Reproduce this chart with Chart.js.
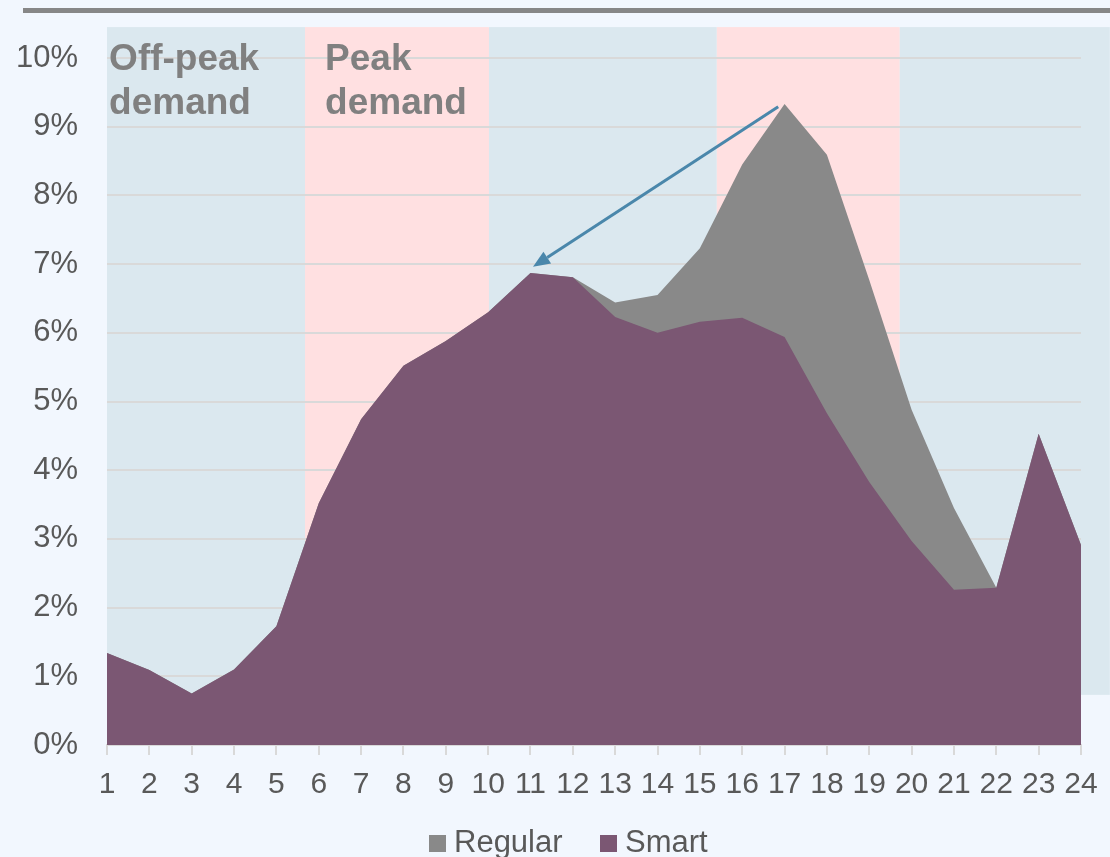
<!DOCTYPE html>
<html>
<head>
<meta charset="utf-8">
<script src="https://cdn.jsdelivr.net/npm/chart.js@4"></script>
<style>
    html, body { margin: 0; padding: 0; background: #f2f7fe; overflow: hidden; }
    #wrap { position: relative; width: 1110px; height: 857px; overflow: hidden; }
    #topline { position: absolute; left: 23px; top: 8px; width: 1087px; height: 5px; background: #878787; }
    #chart-box { position: absolute; left: 0; top: 0; width: 1110px; height: 857px; }
</style>
</head>
<body>
<div id="wrap">
    <div id="topline"></div>
    <div id="chart-box"><canvas id="demand-chart"></canvas></div>
</div>
<script>
// Hourly share of daily charging demand
const hours = ['1', '2', '3', '4', '5', '6', '7', '8', '9', '10', '11', '12',
    '13', '14', '15', '16', '17', '18', '19', '20', '21', '22', '23', '24'];
const regular = [1.34, 1.09, 0.75, 1.10, 1.73, 3.52, 4.74, 5.52, 5.88, 6.30, 6.87, 6.81,
    6.44, 6.55, 7.23, 8.45, 9.33, 8.59, 6.77, 4.88, 3.45, 2.29, 4.53, 2.91];
const smart = [1.34, 1.09, 0.75, 1.10, 1.73, 3.52, 4.74, 5.52, 5.88, 6.30, 6.87, 6.81,
    6.23, 6.00, 6.16, 6.22, 5.94, 4.83, 3.83, 2.97, 2.26, 2.29, 4.53, 2.91];
const yTicks = [0, 1, 2, 3, 4, 5, 6, 7, 8, 9, 10];

// demand periods (hour positions of band edges)
const bandStart = [1, 5.675, 10.02, 15.4, 19.72];
const bandEnd = [5.675, 10.02, 15.4, 19.72, 24.68];
const bandKind = ['off', 'peak', 'off', 'peak', 'off'];
const bandTop = 10.45;
const bandBottom = [0, 0, 0, 0, 0.73];

const periodLabels = [['Off-peak', 'demand'], ['Peak', 'demand']];
const periodLabelAt = [1.05, 6.15];

// arrow from the regular peak to the smart peak
const arrowFrom = [16.85, 9.29];
const arrowTo = [11.06, 6.96];

const bandColors = { off: '#dbe8ef', peak: '#ffe0e1' };
const FONT = '"Liberation Sans", Arial, sans-serif';

const backgroundBands = {
    id: 'backgroundBands',
    beforeDraw(chart) {
        const { ctx, scales: { x, y } } = chart;
        ctx.save();
        for (let i = 0; i < bandStart.length; i++) {
            const x0 = x.getPixelForValue(bandStart[i] - 1);
            const x1 = x.getPixelForValue(bandEnd[i] - 1);
            const y0 = y.getPixelForValue(bandTop);
            const y1 = y.getPixelForValue(bandBottom[i]);
            ctx.fillStyle = bandColors[bandKind[i]];
            ctx.fillRect(x0, y0, x1 - x0, y1 - y0);
        }
        ctx.restore();
    },
    afterDatasetsDraw(chart) {
        const { ctx, scales: { x, y } } = chart;
        ctx.save();
        // period labels
        ctx.fillStyle = '#808080';
        ctx.font = 'bold 37px ' + FONT;
        ctx.textBaseline = 'alphabetic';
        ctx.textAlign = 'left';
        periodLabels.forEach((lines, i) => {
            const px = x.getPixelForValue(periodLabelAt[i] - 1);
            lines.forEach((t, j) => ctx.fillText(t, px, 70 + j * 44));
        });
        // arrow
        const ax = x.getPixelForValue(arrowFrom[0] - 1);
        const ay = y.getPixelForValue(arrowFrom[1]);
        const bx = x.getPixelForValue(arrowTo[0] - 1);
        const by = y.getPixelForValue(arrowTo[1]);
        const ang = Math.atan2(by - ay, bx - ax);
        const headLen = 17, headW = 7;
        const hx = bx - headLen * Math.cos(ang);
        const hy = by - headLen * Math.sin(ang);
        ctx.strokeStyle = '#4a87ab';
        ctx.fillStyle = '#4a87ab';
        ctx.lineWidth = 3;
        ctx.beginPath();
        ctx.moveTo(ax, ay);
        ctx.lineTo(hx, hy);
        ctx.stroke();
        ctx.beginPath();
        ctx.moveTo(bx, by);
        ctx.lineTo(hx + headW * Math.sin(ang), hy - headW * Math.cos(ang));
        ctx.lineTo(hx - headW * Math.sin(ang), hy + headW * Math.cos(ang));
        ctx.closePath();
        ctx.fill();
        ctx.restore();
    },
    afterDraw(chart) {
        // legend, laid out like the original (small gap between swatch and text)
        const { ctx } = chart;
        const sets = chart.data.datasets;
        const legendX = [429, 600];
        ctx.save();
        ctx.font = '31px ' + FONT;
        ctx.textBaseline = 'alphabetic';
        ctx.textAlign = 'left';
        sets.forEach((ds, i) => {
            ctx.fillStyle = ds.backgroundColor;
            ctx.fillRect(legendX[i], 835, 17, 17);
            ctx.fillStyle = '#595959';
            ctx.fillText(ds.label, legendX[i] + 25, 852);
        });
        ctx.restore();
    }
};

function loadChart() {
    const ctx = document.getElementById('demand-chart').getContext('2d');
    new Chart(ctx, {
        type: 'line',
        data: {
            labels: hours,
            datasets: [{
                label: 'Regular',
                data: regular,
                backgroundColor: '#898989',
                borderWidth: 0,
                pointRadius: 0,
                fill: 'origin',
                order: 1
            },
            {
                label: 'Smart',
                data: smart,
                backgroundColor: '#7b5773',
                borderWidth: 0,
                pointRadius: 0,
                fill: 'origin',
                order: 0
            }]
        },
        options: {
            responsive: true,
            maintainAspectRatio: false,
            animation: false,
            layout: { padding: { top: 58, right: 29, left: 0, bottom: 0 } },
            plugins: {
                legend: { display: false },
                tooltip: { enabled: false }
            },
            scales: {
                x: {
                    offset: false,
                    grid: { drawOnChartArea: false, drawTicks: true, tickLength: 10, color: '#d9d9d9', lineWidth: 2 },
                    border: { display: true, color: '#d9d9d9', width: 2 },
                    ticks: {
                        color: '#595959',
                        font: { family: FONT, size: 30 },
                        maxRotation: 0,
                        autoSkip: false,
                        padding: 12
                    },
                    afterFit: s => { s.height = 112; }
                },
                y: {
                    min: 0,
                    max: 10,
                    afterBuildTicks: s => { s.ticks = yTicks.map(v => ({ value: v })); },
                    grid: { color: '#d9d9d9', lineWidth: 2, drawTicks: false },
                    border: { display: false },
                    ticks: {
                        color: '#595959',
                        font: { family: FONT, size: 31 },
                        padding: 29,
                        callback: v => v + '%'
                    },
                    afterFit: s => { s.width = 107; }
                }
            }
        },
        plugins: [backgroundBands]
    });
}

loadChart();
</script>
</body>
</html>
